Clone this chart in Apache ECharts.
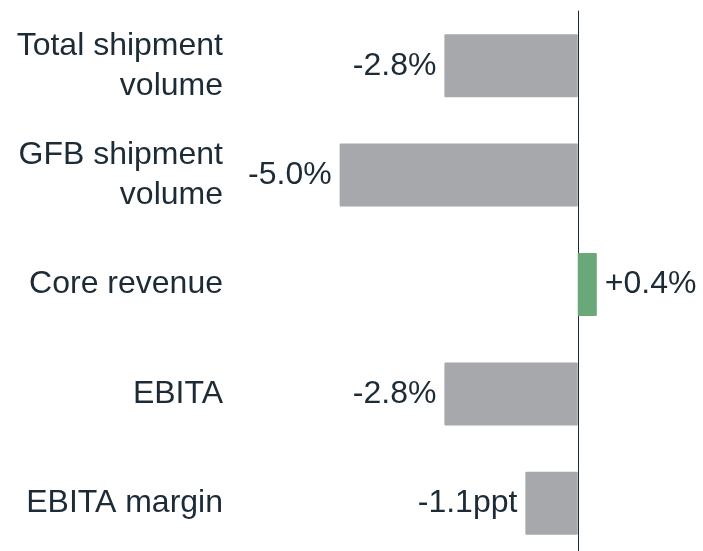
<!DOCTYPE html>
<html>
<head>
<meta charset="utf-8">
<script src="https://cdn.jsdelivr.net/npm/echarts@6/dist/echarts.min.js"></script>
<style>
  html, body { margin: 0; padding: 0; background: #fff; }
  #chart { width: 703px; height: 551px; }
</style>
</head>
<body>
<div id="chart"></div>
<script>
// categories top to bottom
var categories = ['Total shipment\nvolume', 'GFB shipment\nvolume', 'Core revenue', 'EBITA', 'EBITA margin'];
var values = [-2.8, -5.0, 0.4, -2.8, -1.1];
var valueLabels = ['-2.8%', '-5.0%', '+0.4%', '-2.8%', '-1.1ppt'];

var textColor = '#1c2b36';
var chart = echarts.init(document.getElementById('chart'));

var option = {
  animation: false,
  grid: { left: 292, width: 381, top: 11, height: 547, outerBoundsMode: 'none' },
  xAxis: {
    type: 'value',
    min: -6,
    max: 2,
    show: false
  },
  yAxis: {
    type: 'category',
    inverse: true,
    data: categories,
    axisTick: { show: false },
    axisLine: { onZero: true, lineStyle: { color: '#1c2b36', width: 1 } },
    axisLabel: {
      margin: 69,
      color: textColor,
      fontFamily: 'Liberation Sans, Arial, sans-serif',
      fontSize: 32,
      lineHeight: 40,
      padding: [6, 0, 0, 0],
      align: 'right'
    }
  },
  series: [{
    type: 'bar',
    barWidth: 63,
    data: values.map(function (v, i) {
      return {
        value: v,
        itemStyle: { color: v >= 0 ? '#6aa879' : '#a7a8ab', borderRadius: 1 },
        label: {
          show: true,
          position: v >= 0 ? 'right' : 'left',
          distance: 8,
          formatter: valueLabels[i],
          color: textColor,
          fontFamily: 'Liberation Sans, Arial, sans-serif',
          fontSize: 32,
          padding: [4, 0, 0, 0]
        }
      };
    }),
    z: 1
  }]
};
chart.setOption(option);
</script>
</body>
</html>
